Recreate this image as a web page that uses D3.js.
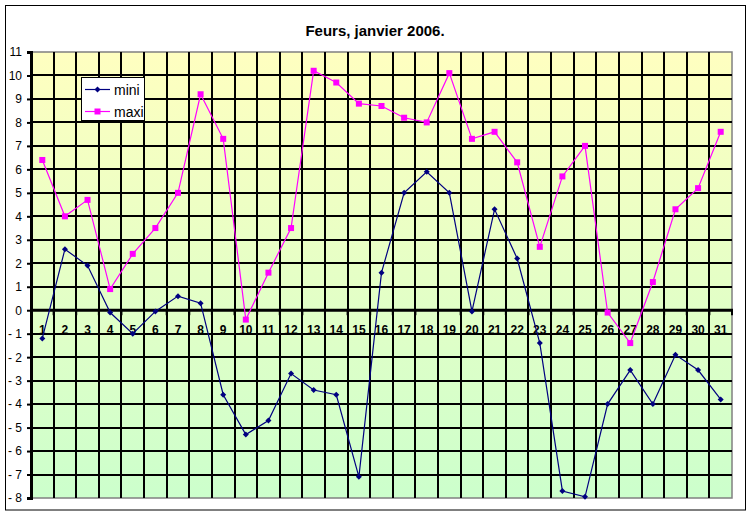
<!DOCTYPE html>
<html>
<head>
<meta charset="utf-8">
<script src="https://cdn.jsdelivr.net/npm/d3@7"></script>
<style>
  body { margin: 0; background: #fff; }
  svg { display: block; font-family: Arial, "Liberation Sans", sans-serif; }
</style>
</head>
<body>
<svg id="chart" width="751" height="515"></svg>
<script>
	"use strict";

	// Daily temperatures, Feurs, January 2006
	var days = d3.range(1, 32);
	var mini = [-1.2, 2.6, 1.9, -0.1, -1.0, -0.05, 0.6, 0.3, -3.6, -5.3,
		-4.7, -2.7, -3.4, -3.6, -7.1, 1.6, 5.0, 5.9, 5.0, -0.05,
		4.3, 2.2, -1.4, -7.7, -7.95, -4.0, -2.55, -4.0, -1.9, -2.55, -3.8];
	var maxi = [6.4, 4.0, 4.7, 0.9, 2.4, 3.5, 5.0, 9.2, 7.3, -0.4,
		1.6, 3.5, 10.2, 9.7, 8.8, 8.7, 8.2, 8.0, 10.1, 7.3,
		7.6, 6.3, 2.7, 5.7, 7.0, -0.1, -1.4, 1.2, 4.3, 5.2, 7.6];
	var yTicks = d3.range(-8, 12);
	var seriesNames = ["mini", "maxi"];

	var svg = d3.select("#chart"),
		plot = { left: 31, top: 52, right: 732, bottom: 498 };

	// outer frame
	svg.append("rect")
		.attr("x", 5.5).attr("y", 5.5)
		.attr("width", 740).attr("height", 504.5)
		.attr("fill", "#fff").attr("stroke", "#000").attr("stroke-width", 1);

	svg.append("text")
		.attr("x", 375).attr("y", 36)
		.attr("text-anchor", "middle")
		.attr("font-size", "15px").attr("font-weight", "bold")
		.text("Feurs, janvier 2006.");

	var x = d3.scaleBand().domain(days).range([plot.left, plot.right]),
		y = d3.scaleLinear().domain([-8, 11]).range([plot.bottom, plot.top]);

	// background gradient
	var grad = svg.append("defs").append("linearGradient")
		.attr("id", "bg").attr("x1", 0).attr("y1", 0).attr("x2", 0).attr("y2", 1);
	grad.append("stop").attr("offset", "0%").attr("stop-color", "#ffffc0");
	grad.append("stop").attr("offset", "100%").attr("stop-color", "#ccffcc");

	svg.append("rect")
		.attr("x", plot.left).attr("y", plot.top)
		.attr("width", plot.right - plot.left).attr("height", plot.bottom - plot.top)
		.attr("fill", "url(#bg)")
		.attr("stroke", "#808080").attr("stroke-width", 1.5);

	// grid
	var grid = svg.append("g").attr("stroke", "#000").attr("stroke-width", 2)
		.attr("shape-rendering", "crispEdges");
	grid.selectAll(".hg").data(yTicks.filter(function(d) { return d > -8 && d < 11; }))
		.enter().append("line")
			.attr("x1", plot.left).attr("x2", plot.right)
			.attr("y1", function(d) { return Math.round(y(d)); })
			.attr("y2", function(d) { return Math.round(y(d)); });
	grid.selectAll(".vg").data(days.slice(1))
		.enter().append("line")
			.attr("x1", function(d) { return Math.round(x(d)); })
			.attr("x2", function(d) { return Math.round(x(d)); })
			.attr("y1", plot.top).attr("y2", plot.bottom);

	// y axis
	var yAxis = svg.append("g")
		.attr("transform", "translate(" + plot.left + ",0)")
		.call(d3.axisLeft(y).tickValues(yTicks).tickSize(4).tickPadding(5).tickFormat(d3.format("d")));
	yAxis.select(".domain").attr("stroke-width", 3);
	yAxis.selectAll(".tick line").attr("stroke-width", 2);
	yAxis.selectAll("text").attr("font-size", "12px").attr("font-family", "Arial, 'Liberation Sans', sans-serif")
		.text(function(d) { return d < 0 ? "- " + Math.abs(d) : d; });

	// zero axis with category ticks
	var xAxis = svg.append("g").attr("transform", "translate(0," + y(0) + ")");
	xAxis.append("line")
		.attr("x1", plot.left).attr("x2", plot.right + 1)
		.attr("stroke", "#000").attr("stroke-width", 3);
	xAxis.selectAll(".xt").data(days.concat([32]))
		.enter().append("line")
			.attr("x1", function(d) { return d === 32 ? plot.right : x(d); })
			.attr("x2", function(d) { return d === 32 ? plot.right : x(d); })
			.attr("y1", 0).attr("y2", 5)
			.attr("stroke", "#000").attr("stroke-width", 2);

	// series
	var colors = { mini: "#000080", maxi: "#ff00ff" },
		data = { mini: mini, maxi: maxi };
	var line = d3.line()
		.x(function(d, i) { return x(days[i]) + x.bandwidth() / 2; })
		.y(function(d) { return y(d); });

	seriesNames.forEach(function(name) {
		svg.append("path")
			.attr("d", line(data[name]))
			.attr("fill", "none")
			.attr("stroke", colors[name]).attr("stroke-width", 1.2);
	});

	// category labels
	xAxis.selectAll(".xl").data(days)
		.enter().append("text")
			.attr("x", function(d) { return x(d) + x.bandwidth() / 2; })
			.attr("y", 24)
			.attr("text-anchor", "middle")
			.attr("font-size", "12px").attr("font-weight", "bold")
			.text(function(d) { return d; });

	function marker(g, name, cx, cy) {
		if (name === "mini") {
			g.append("path")
				.attr("d", "M" + cx + "," + (cy - 3) + "L" + (cx + 3) + "," + cy + "L" + cx + "," + (cy + 3) + "L" + (cx - 3) + "," + cy + "Z")
				.attr("fill", colors[name]);
		} else {
			g.append("rect")
				.attr("x", cx - 3).attr("y", cy - 3)
				.attr("width", 6).attr("height", 6)
				.attr("fill", colors[name]);
		}
	}

	seriesNames.forEach(function(name) {
		var g = svg.append("g");
		data[name].forEach(function(v, i) {
			marker(g, name, x(days[i]) + x.bandwidth() / 2, y(v));
		});
	});

	// legend
	var legend = svg.append("g").attr("transform", "translate(81.5,77.5)");
	legend.append("rect")
		.attr("width", 63).attr("height", 43)
		.attr("fill", "#fff").attr("stroke", "#000").attr("stroke-width", 1);
	seriesNames.forEach(function(name, i) {
		var ly = 12 + i * 22;
		legend.append("line")
			.attr("x1", 3.5).attr("x2", 28.5).attr("y1", ly).attr("y2", ly)
			.attr("stroke", colors[name]).attr("stroke-width", 1.2);
		marker(legend, name, 16, ly);
		legend.append("text")
			.attr("x", 32.5).attr("y", ly + 5)
			.attr("font-size", "14px")
			.text(name);
	});
</script>
</body>
</html>
